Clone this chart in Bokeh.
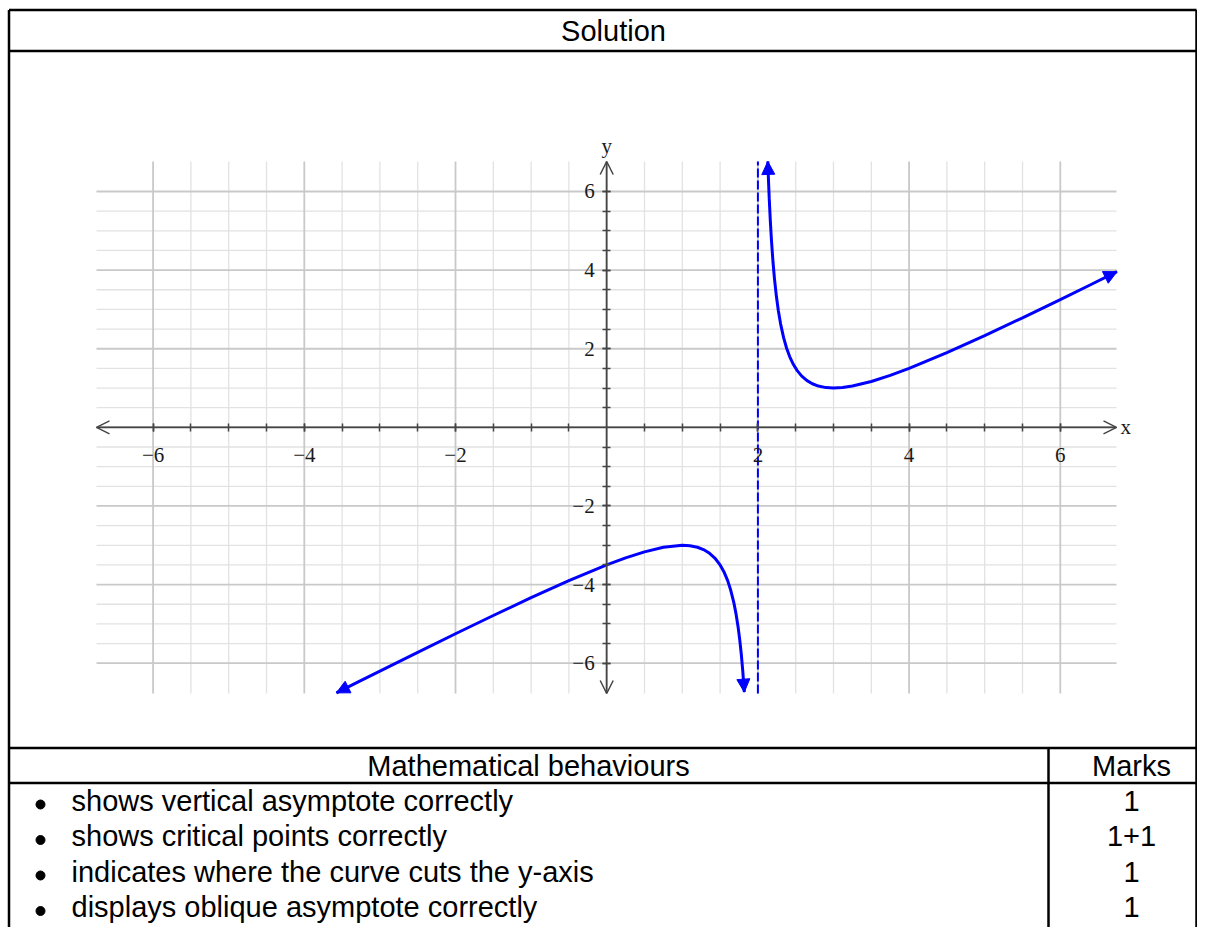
from bokeh.plotting import figure
from bokeh.models import Range1d, LinearAxis, FixedTicker, Arrow, NormalHead, OpenHead
from bokeh.core.properties import value
from bokeh.embed import file_html
from bokeh.resources import INLINE

# ---------------- data ----------------
title_text = "Solution"
head_texts = ["Mathematical behaviours", "Marks"]
criteria = [
    "shows vertical asymptote correctly",
    "shows critical points correctly",
    "indicates where the curve cuts the y-axis",
    "displays oblique asymptote correctly",
]
marks = ["1", "1+1", "1", "1"]

tick_values = [-6, -4, -2, 2, 4, 6]
tick_labels = ["\u22126", "\u22124", "\u22122", "2", "4", "6"]
minor_values = [-6.0, -5.5, -5.0, -4.5, -4.0, -3.5, -3.0, -2.5, -2.0, -1.5, -1.0, -0.5,
                0.5, 1.0, 1.5, 2.0, 2.5, 3.0, 3.5, 4.0, 4.5, 5.0, 5.5, 6.0]
asymptote_x = 2

left_x = [-3.575, -3.3, -3.0, -2.5, -2.0, -1.5, -1.0, -0.5, 0.0, 0.25, 0.5, 0.75, 1.0, 1.1,
          1.2, 1.28, 1.35, 1.43, 1.5, 1.55, 1.6, 1.64, 1.68, 1.71, 1.74, 1.76, 1.78, 1.80, 1.82]
left_y = [-6.754, -6.489, -6.2, -5.722, -5.25, -4.786, -4.333, -3.9, -3.5, -3.321, -3.167, -3.05,
          -3.0, -3.011, -3.05, -3.109, -3.188, -3.324, -3.5, -3.672, -3.9, -4.138, -4.445, -4.738,
          -5.106, -5.407, -5.765, -6.2, -6.736]
right_x = [2.131, 2.14, 2.15, 2.165, 2.18, 2.2, 2.22, 2.245, 2.27, 2.3, 2.34, 2.38, 2.42, 2.47,
           2.52, 2.58, 2.65, 2.72, 2.8, 2.9, 3.0, 3.12, 3.25, 3.5, 3.75, 4.0, 4.5, 5.0, 5.5, 6.0,
           6.4, 6.75]
right_y = [6.765, 6.283, 5.817, 5.226, 4.736, 4.2, 3.765, 3.327, 2.974, 2.633, 2.281, 2.012,
           1.801, 1.598, 1.443, 1.304, 1.188, 1.109, 1.05, 1.011, 1.0, 1.013, 1.05, 1.167, 1.321,
           1.5, 1.9, 2.333, 2.786, 3.25, 3.627, 3.961]

# ---------------- layout (picture px) ----------------
W, H = 1197, 927
X0_PX, KX = 606.2, 75.6
Y0_PX, KY = 426.85, 39.31


def dx(sx):
    return (sx - X0_PX) / KX


def dy(sy):
    return (Y0_PX - sy) / KY


BLUE = "#0000ff"
AXIS_C = "#454545"
LABEL_C = "#1a1a1a"

p = figure(width=W, height=H, output_backend="svg", toolbar_location=None,
           x_range=Range1d(dx(0), dx(W)), y_range=Range1d(dy(H), dy(0)),
           x_axis_type=None, y_axis_type=None, min_border=0, outline_line_color=None,
           background_fill_color="white", border_fill_color="white")

GX = (dx(96), dx(1116))
GY = (dy(693), dy(161))

# grid lines
minor_grid = [v for v in minor_values if v not in tick_values]
major_grid = list(tick_values)
for vals, col, lw in ((minor_grid, "#e2e2e2", 1.3), (major_grid, "#c9c9c9", 1.8)):
    p.segment(x0=vals, y0=[GY[0]] * len(vals), x1=vals, y1=[GY[1]] * len(vals),
              line_color=col, line_width=lw)
    p.segment(x0=[GX[0]] * len(vals), y0=vals, x1=[GX[1]] * len(vals), y1=vals,
              line_color=col, line_width=lw)

# axes through the origin
common = dict(axis_line_color=AXIS_C, axis_line_width=1.5,
              major_tick_line_color=AXIS_C, minor_tick_line_color=AXIS_C,
              major_tick_line_width=1.5, minor_tick_line_width=1.5,
              major_tick_in=4, major_tick_out=4, minor_tick_in=4, minor_tick_out=4,
              major_label_text_font="Liberation Serif", major_label_text_font_size="21px",
              major_label_text_color=LABEL_C)
xaxis = LinearAxis(fixed_location=0, bounds=GX,
                   ticker=FixedTicker(ticks=tick_values, minor_ticks=minor_values),
                   major_label_overrides=dict(zip(tick_values, tick_labels)),
                   major_label_standoff=17, **common)
yaxis = LinearAxis(fixed_location=0, bounds=GY,
                   ticker=FixedTicker(ticks=tick_values, minor_ticks=minor_values),
                   major_label_overrides=dict(zip(tick_values, tick_labels)),
                   major_label_standoff=8, major_label_orientation="horizontal", **common)
p.add_layout(xaxis, "below")
p.add_layout(yaxis, "left")

p.add_layout(Arrow(start=OpenHead(size=13, line_color=AXIS_C, line_width=1.5),
                   end=OpenHead(size=13, line_color=AXIS_C, line_width=1.5),
                   x_start=GX[0], y_start=0, x_end=GX[1], y_end=0,
                   line_color=AXIS_C, line_width=1.5))
p.add_layout(Arrow(start=OpenHead(size=13, line_color=AXIS_C, line_width=1.5),
                   end=OpenHead(size=13, line_color=AXIS_C, line_width=1.5),
                   x_start=0, y_start=GY[0], x_end=0, y_end=GY[1],
                   line_color=AXIS_C, line_width=1.5))

serif = value("Liberation Serif")
p.text(x=[0], y=[dy(145)], text=["y"], text_font=serif, text_font_size=value("21px"),
       text_align="center", text_baseline="alphabetic", text_color=LABEL_C)
p.text(x=[dx(1120)], y=[0], text=["x"], text_font=serif, text_font_size=value("21px"),
       text_align="left", text_baseline="middle", text_color=LABEL_C)

# vertical asymptote
p.line(x=[asymptote_x, asymptote_x], y=[GY[0], GY[1]], line_color=BLUE, line_width=2,
       line_dash="9 3")

# curve branches
p.line(x=left_x, y=left_y, line_color=BLUE, line_width=3)
p.line(x=right_x, y=right_y, line_color=BLUE, line_width=3)
for xs, ys, i, j in ((left_x, left_y, 1, 0), (left_x, left_y, -2, -1),
                     (right_x, right_y, 1, 0), (right_x, right_y, -2, -1)):
    p.add_layout(Arrow(end=NormalHead(size=13, fill_color=BLUE, line_color=BLUE, line_width=1),
                       x_start=xs[i], y_start=ys[i], x_end=xs[j], y_end=ys[j],
                       line_alpha=0))

# table borders
L, R, B = 8.5, W - 1, H
hlines = [9.5, 50.5, 747.5, 782.5]
p.segment(x0=[dx(L)] * len(hlines), y0=[dy(v) for v in hlines],
          x1=[dx(R)] * len(hlines), y1=[dy(v) for v in hlines],
          line_color="black", line_width=2.5)
p.segment(x0=[dx(L), dx(R), dx(1048)], y0=[dy(9.5), dy(9.5), dy(747.5)],
          x1=[dx(L), dx(R), dx(1048)], y1=[dy(B), dy(B), dy(B)],
          line_color="black", line_width=2.5)

sans = value("Liberation Sans")
fs = value("29px")
p.text(x=[dx(613)], y=[dy(30)], text=[title_text], text_font=sans, text_font_size=fs,
       text_align="center", text_baseline="middle", text_color="black")
p.text(x=[dx(528), dx(1131)], y=[dy(765), dy(765)], text=head_texts, text_font=sans,
       text_font_size=fs, text_align="center", text_baseline="middle", text_color="black")
row_y = [dy(800 + 35.5 * i) for i in range(len(criteria))]
p.scatter(x=[dx(40)] * len(criteria), y=[dy(804 + 35.5 * i) for i in range(len(criteria))],
          marker="circle", size=9, fill_color="black", line_color="black")
p.text(x=[dx(71)] * len(criteria), y=row_y, text=criteria, text_font=sans, text_font_size=fs,
       text_align="left", text_baseline="middle", text_color="black")
p.text(x=[dx(1131)] * len(marks), y=row_y, text=marks, text_font=sans, text_font_size=fs,
       text_align="center", text_baseline="middle", text_color="black")

open("out.html", "w").write(file_html(p, INLINE))
